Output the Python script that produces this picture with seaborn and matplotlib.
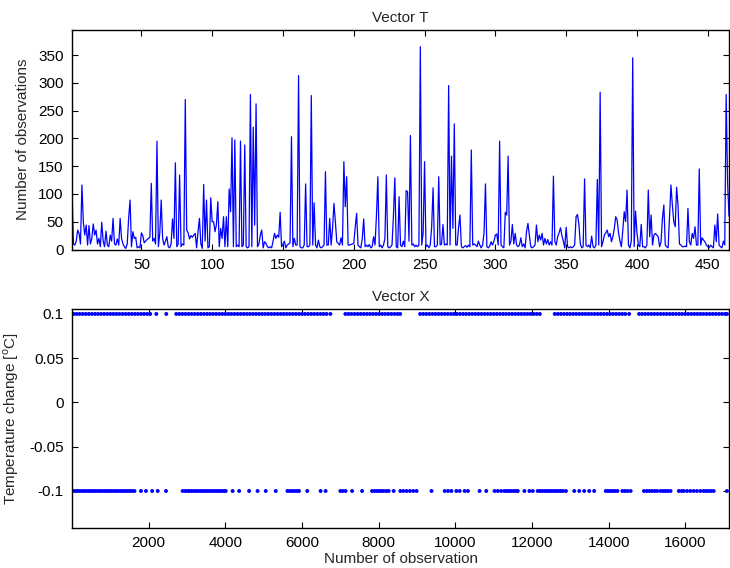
import matplotlib
matplotlib.use("Agg")
import matplotlib.pyplot as plt
import seaborn as sns
import pandas as pd

# ---------------- data ----------------
T_VALUES = [
    110, 10, 8, 15, 35, 29, 10, 116, 50, 26,
    44, 8, 43, 10, 20, 46, 26, 35, 10, 20,
    5, 49, 15, 5, 33, 8, 5, 26, 15, 56,
    10, 8, 19, 8, 56, 20, 10, 5, 2, 10,
    56, 89, 5, 32, 20, 22, 3, 5, 3, 30,
    25, 12, 15, 18, 20, 22, 119, 15, 20, 10,
    195, 5, 30, 89, 20, 8, 15, 23, 5, 3,
    10, 55, 20, 156, 5, 10, 134, 5, 10, 8,
    270, 35, 30, 19, 25, 22, 26, 29, 3, 32,
    56, 10, 2, 117, 15, 89, 3, 5, 93, 50,
    50, 32, 45, 86, 5, 38, 20, 59, 5, 59,
    5, 109, 68, 201, 5, 197, 5, 8, 5, 195,
    5, 8, 188, 5, 3, 5, 279, 5, 220, 44,
    262, 5, 10, 26, 35, 3, 14, 11, 5, 3,
    5, 3, 15, 29, 20, 26, 22, 67, 5, 10,
    15, 3, 8, 10, 12, 203, 5, 20, 8, 8,
    313, 5, 3, 3, 8, 118, 5, 5, 8, 277,
    8, 84, 8, 3, 17, 5, 3, 5, 8, 140,
    8, 8, 56, 8, 38, 83, 50, 14, 11, 8,
    21, 8, 158, 77, 131, 8, 8, 9, 10, 11,
    40, 65, 8, 5, 3, 20, 55, 5, 8, 5,
    9, 3, 5, 23, 8, 60, 131, 5, 8, 3,
    8, 20, 134, 5, 3, 5, 8, 60, 129, 5,
    3, 95, 8, 5, 15, 5, 106, 104, 15, 205,
    8, 10, 5, 8, 5, 8, 365, 8, 30, 158,
    5, 8, 3, 8, 40, 111, 5, 5, 8, 131,
    8, 10, 45, 8, 10, 8, 295, 8, 168, 38,
    226, 8, 8, 40, 62, 5, 3, 5, 7, 4,
    8, 5, 179, 8, 10, 8, 5, 15, 8, 3,
    8, 30, 118, 5, 3, 6, 14, 8, 15, 26,
    28, 8, 195, 8, 5, 3, 67, 62, 168, 8,
    15, 45, 10, 29, 8, 5, 8, 21, 5, 10,
    3, 32, 47, 26, 5, 3, 5, 8, 44, 14,
    26, 17, 29, 8, 20, 10, 18, 8, 14, 8,
    132, 14, 8, 23, 30, 39, 25, 15, 3, 40,
    5, 3, 5, 3, 5, 8, 59, 63, 45, 10,
    3, 5, 127, 8, 5, 8, 3, 24, 5, 3,
    8, 126, 8, 283, 5, 14, 26, 30, 35, 23,
    29, 14, 23, 38, 59, 53, 30, 15, 5, 35,
    68, 50, 107, 8, 3, 15, 345, 5, 69, 30,
    8, 5, 45, 5, 5, 3, 8, 107, 23, 62,
    8, 26, 29, 26, 23, 5, 14, 56, 80, 8,
    5, 3, 60, 116, 80, 50, 41, 112, 80, 10,
    8, 5, 5, 6, 5, 74, 14, 8, 29, 20,
    41, 8, 8, 145, 8, 21, 17, 14, 8, 5,
    3, 8, 5, 3, 44, 14, 64, 8, 5, 3,
    15, 8, 279, 120, 60,
]
T_INDEX = list(range(1, len(T_VALUES) + 1))

POS_X = [
    44, 120, 200, 280, 360, 440, 520, 600, 680, 760, 840, 920, 1000, 1080,
    1160, 1240, 1320, 1400, 1480, 1560, 1640, 1720, 1800, 1880, 1960, 2040,
    2200, 2460,
    2720, 2800, 2880, 2960, 3040, 3120, 3200, 3280, 3360, 3440, 3520, 3600,
    3680, 3760, 3840, 3920, 4000, 4080, 4160, 4240, 4320, 4400, 4480, 4560,
    4640, 4720, 4800, 4880, 4960, 5040, 5120, 5200, 5280, 5360, 5440, 5520,
    5600, 5680, 5760, 5840, 5920, 6000, 6080, 6160, 6240, 6320, 6400, 6480,
    6560, 6640, 6740,
    7130, 7210, 7290, 7370, 7450, 7530, 7610, 7690, 7770, 7850, 7930, 8010,
    8090, 8170, 8250, 8330, 8410, 8490, 8560,
    9080, 9160, 9240, 9320, 9400, 9480, 9560, 9640, 9720, 9800, 9880, 9960,
    10040, 10120, 10200, 10280, 10360, 10440, 10520, 10600, 10680, 10760,
    10840, 10920, 11000, 11080, 11160, 11240, 11320, 11400, 11480, 11560,
    11640, 11720, 11800, 11880, 11960, 12040, 12120, 12200,
    12590, 12670, 12750, 12830, 12910, 12990, 13070, 13150, 13230, 13310,
    13390, 13470, 13550, 13630, 13710, 13790, 13870, 13950, 14030, 14110,
    14190, 14270, 14350, 14430, 14530,
    14790, 14870, 14950, 15030, 15110, 15190, 15270, 15350, 15430, 15510,
    15590, 15670, 15750, 15830, 15910, 15990, 16070, 16150, 16230, 16310,
    16390, 16470, 16550, 16630, 16710, 16790, 16870, 16950, 17030, 17080,
]
NEG_X = [
    10, 70, 130, 190, 250, 310, 370, 430, 490, 550, 610, 670, 730, 790, 850,
    910, 970, 1030, 1090, 1150, 1210, 1270, 1330, 1390, 1450, 1510, 1570,
    1630, 1800, 1930, 2090, 2236, 2452, 2886, 2956, 3016, 3060, 3120, 3180,
    3240, 3300, 3360, 3420, 3480, 3540, 3600, 3660, 3720, 3780, 3840, 3900,
    3960, 4010, 4190, 4360, 4620, 4840, 5054, 5315, 5620, 5680, 5740, 5800,
    5860, 5920, 6136, 6484, 6614, 7000, 7060, 7135, 7306, 7566, 7826, 7890,
    7950, 8010, 8070, 8130, 8200, 8260, 8390, 8564, 8642, 8729, 8815, 8902,
    8988, 9376, 9722, 9809, 9895, 10025, 10112, 10242, 10328, 10631, 10804,
    11021, 11107, 11194, 11280, 11340, 11400, 11460, 11520, 11580, 11627,
    11800, 11930, 12017, 12147, 12210, 12270, 12330, 12390, 12450, 12510,
    12570, 12630, 12690, 12750, 12810, 12883, 13099, 13229, 13359, 13489,
    13618, 13921, 13980, 14040, 14100, 14160, 14224, 14354, 14420, 14490,
    14570, 14917, 14990, 15060, 15130, 15200, 15263, 15350, 15420, 15480,
    15540, 15610, 15826, 15900, 15956, 16042, 16129, 16215, 16300, 16388,
    16475, 16540, 16600, 16670, 16735, 17081,
]
CHANGE_LEVELS = [0.1, -0.1]

T_XTICKS = [50, 100, 150, 200, 250, 300, 350, 400, 450]
T_YTICKS = [0, 50, 100, 150, 200, 250, 300, 350]
X_XTICKS = [2000, 4000, 6000, 8000, 10000, 12000, 14000, 16000]
X_YTICKS = [-0.1, -0.05, 0, 0.05, 0.1]
X_YTICKLABELS = ["-0.1", "-0.05", "0", "0.05", "0.1"]

# ---------------- style ----------------
sns.set_style("ticks")
plt.rcParams["font.family"] = ["Liberation Sans", "DejaVu Sans"]
plt.rcParams["mathtext.fontset"] = "custom"
plt.rcParams["mathtext.rm"] = "Liberation Sans"
plt.rcParams["axes.unicode_minus"] = False
FS = 11

fig = plt.figure(figsize=(7.3, 5.68), dpi=100)
ax1 = fig.add_axes([72 / 730, 1 - 249.5 / 568, (729 - 72) / 730, (249.5 - 30) / 568])
ax2 = fig.add_axes([72 / 730, 1 - 528 / 568, (729 - 72) / 730, (528 - 309) / 568])

df_t = pd.DataFrame({"idx": T_INDEX, "T": T_VALUES})
sns.lineplot(data=df_t, x="idx", y="T", ax=ax1, color="#0000ff", linewidth=0.9)

df_x = pd.DataFrame({
    "obs": POS_X + NEG_X,
    "chg": [CHANGE_LEVELS[0]] * len(POS_X) + [CHANGE_LEVELS[1]] * len(NEG_X),
})
sns.scatterplot(data=df_x, x="obs", y="chg", ax=ax2, color="#0000ff",
                s=8, linewidth=0, edgecolor="none")

for ax in (ax1, ax2):
    for sp in ax.spines.values():
        sp.set_visible(True)
        sp.set_linewidth(1.0)
        sp.set_color("black")
    ax.tick_params(direction="in", length=4, width=0.8, top=True, right=True,
                   labelsize=FS, colors="black", pad=6)

ax1.set_xlim(1, 465)
ax1.set_ylim(0, 395)
ax1.set_xticks(T_XTICKS)
ax1.set_yticks(T_YTICKS)
ax1.set_xlabel("")
ax1.set_ylabel("Number of observations", fontsize=FS, labelpad=6)
ax1.set_title("Vector T", fontsize=FS, pad=6)

ax2.set_xlim(1, 17135)
ax2.set_ylim(-0.1418, 0.1056)
ax2.set_xticks(X_XTICKS)
ax2.set_yticks(X_YTICKS)
ax2.set_yticklabels(X_YTICKLABELS)
ax2.set_xlabel("Number of observation", fontsize=FS, labelpad=1)
ax2.set_ylabel(r"Temperature change [$^{\mathrm{o}}$C]", fontsize=FS, labelpad=6)
ax2.set_title("Vector X", fontsize=FS, pad=6)

fig.savefig("out.png", dpi=100)
